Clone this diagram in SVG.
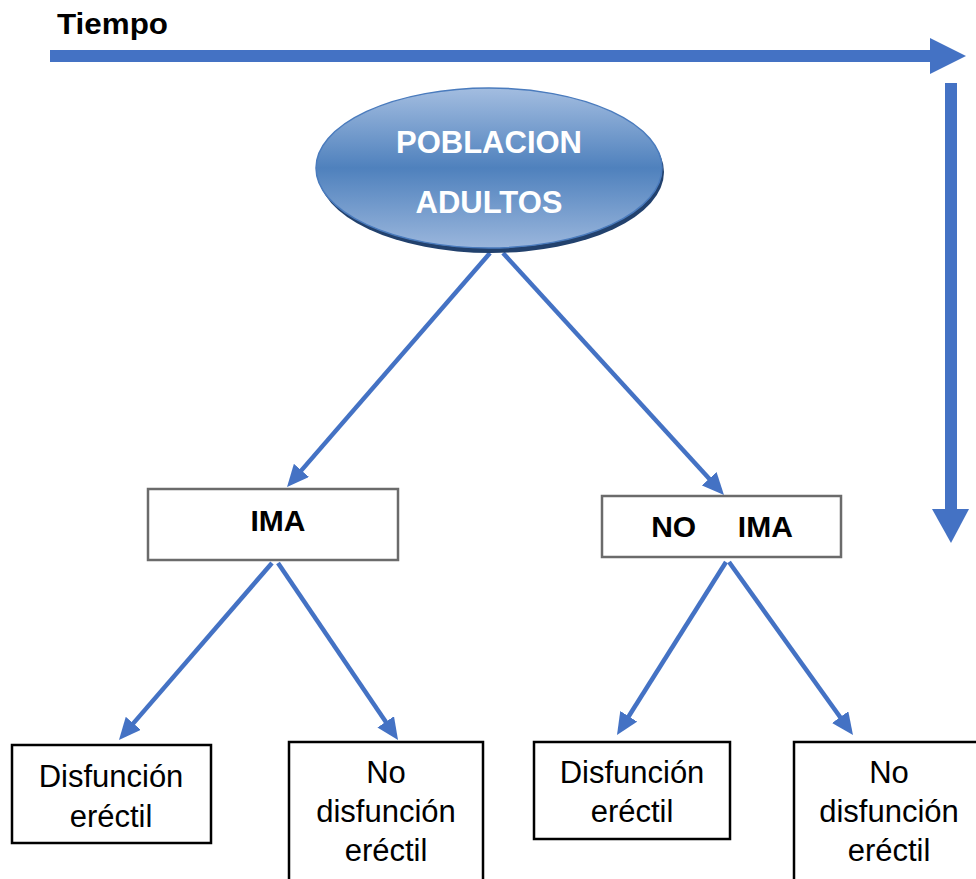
<svg xmlns="http://www.w3.org/2000/svg" width="976" height="879" viewBox="0 0 976 879">
<style>
.conn{stroke:#4472c4;stroke-width:4.5;fill:none;marker-end:url(#ah)}
.big{fill:#4472c4}
.b{font-family:"Liberation Sans",Arial,sans-serif;font-weight:bold;text-anchor:middle}
.r{font-family:"Liberation Sans",Arial,sans-serif;font-size:31px;text-anchor:middle;fill:#000}
.grey{fill:#fff;stroke:#6b6b6b;stroke-width:2.5}
.blk{fill:#fff;stroke:#000;stroke-width:2.5}
</style>
<defs>
<marker id="ah" markerUnits="userSpaceOnUse" markerWidth="22" markerHeight="20" viewBox="0 0 22 20" refX="10" refY="10" orient="auto">
<path d="M0,0 L22,10 L0,20 z" fill="#4472c4"/>
</marker>
<linearGradient id="eg" x1="0" y1="0" x2="0" y2="1">
<stop offset="0" stop-color="#a3bde0"/>
<stop offset="0.5" stop-color="#4f81bd"/>
<stop offset="1" stop-color="#9ab6dc"/>
</linearGradient>
</defs>
<rect width="976" height="879" fill="#fff"/>
<g id="tiempo">
<text class="b" x="57" y="34" font-size="29" textLength="111" lengthAdjust="spacingAndGlyphs" style="text-anchor:start">Tiempo</text>
<rect class="big" x="50" y="50" width="882" height="12"/>
<polygon class="big" points="930,38 966,56 930,74"/>
<rect class="big" x="945" y="83" width="12" height="428"/>
<polygon class="big" points="932,509 969,509 951,543"/>
</g>
<g id="connectors">
<line class="conn" x1="490" y1="253" x2="294.9" y2="477.9"/>
<line class="conn" x1="503" y1="253" x2="715.9" y2="486.1"/>
<line class="conn" x1="272" y1="563" x2="126.8" y2="730.9"/>
<line class="conn" x1="278" y1="563" x2="391.3" y2="730.1"/>
<line class="conn" x1="726" y1="562" x2="623.4" y2="724.8"/>
<line class="conn" x1="729" y1="562" x2="846" y2="725.2"/>
</g>
<g id="poblacion">
<ellipse cx="491" cy="172" rx="173" ry="81" fill="#22416d"/>
<ellipse cx="489" cy="168" rx="173" ry="80" fill="url(#eg)" stroke="#4a7bbd" stroke-width="1.5"/>
<text class="b" x="489" y="153" font-size="31" fill="#fff">POBLACION</text>
<text class="b" x="489" y="213" font-size="31" fill="#fff">ADULTOS</text>
</g>
<g id="ima">
<rect class="grey" x="148" y="489" width="250" height="71"/>
<text class="b" x="278" y="531" font-size="30">IMA</text>
</g>
<g id="noima">
<rect class="grey" x="602" y="496" width="239" height="61"/>
<text class="b" x="722" y="537" font-size="30" xml:space="preserve" style="white-space:pre">NO     IMA</text>
</g>
<g id="de1">
<rect class="blk" x="12" y="745" width="199" height="98"/>
<text class="r" x="111" y="787">Disfunción</text>
<text class="r" x="111" y="827">eréctil</text>
</g>
<g id="nde1">
<rect class="blk" x="289" y="742" width="194" height="150"/>
<text class="r" x="386" y="783">No</text>
<text class="r" x="386" y="822">disfunción</text>
<text class="r" x="386" y="861">eréctil</text>
</g>
<g id="de2">
<rect class="blk" x="534" y="742" width="196" height="97"/>
<text class="r" x="632" y="783">Disfunción</text>
<text class="r" x="632" y="822">eréctil</text>
</g>
<g id="nde2">
<rect class="blk" x="794" y="742" width="195" height="150"/>
<text class="r" x="889" y="783">No</text>
<text class="r" x="889" y="822">disfunción</text>
<text class="r" x="889" y="861">eréctil</text>
</g>
</svg>
